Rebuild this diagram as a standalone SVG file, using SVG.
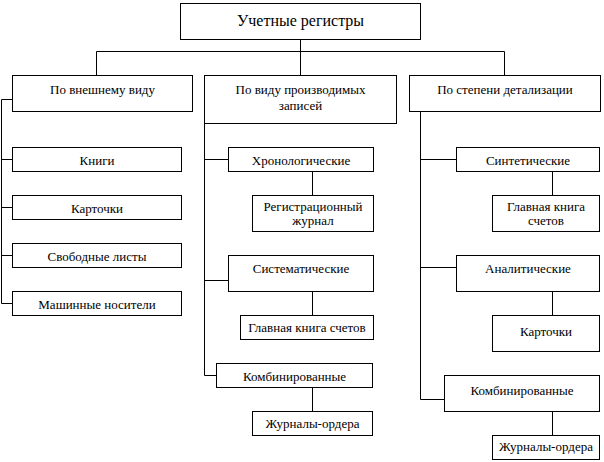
<svg xmlns="http://www.w3.org/2000/svg" width="604" height="462" viewBox="0 0 604 462">
<style>
rect{fill:#fff;stroke:#000;stroke-width:1}
path{stroke:#000;stroke-width:1;fill:none}
text{font-size:13px;fill:#000;text-anchor:middle}
.t{font-size:16px}
</style>
<rect x="0" y="0" width="604" height="462" style="stroke:none"/>
<g id="connectors">
<path d="M300.5 39.5V75.5M96.5 75.5V51.5H504.5V75.5"/>
<path d="M12.5 99.5H1.5V303.5H12.5M1.5 159.5H12.5M1.5 207.5H12.5M1.5 255.5H12.5"/>
<path d="M204.5 123.5V375.5H216.5M204.5 159.5H228.5M204.5 280.5H228.5"/>
<path d="M312.5 171.5V195.5M312.5 291.5V315.5M312.5 387.5V411.5"/>
<path d="M420.5 111.5V399.5H444.5M420.5 159.5H456.5M420.5 267.5H456.5"/>
<path d="M552.5 171.5V195.5M552.5 291.5V315.5M552.5 411.5V435.5"/>
</g>
<g font-family="'Liberation Serif', 'DejaVu Serif', serif">
<g id="root"><rect x="180.5" y="3.5" width="240" height="36"/><text class="t" x="300.5" y="26">Учетные регистры</text></g>
<g id="vid"><rect x="12.5" y="75.5" width="180" height="36"/><text x="102.5" y="94">По внешнему виду</text></g>
<g id="zap"><rect x="204.5" y="75.5" width="192" height="48"/><text x="300.5" y="94">По виду производимых</text><text x="300.5" y="110">записей</text></g>
<g id="det"><rect x="409.5" y="75.5" width="191" height="36"/><text x="505" y="94">По степени детализации</text></g>
<g id="knigi"><rect x="12.5" y="147.5" width="169" height="24"/><text x="97" y="165">Книги</text></g>
<g id="kart1"><rect x="12.5" y="195.5" width="169" height="24"/><text x="97" y="213">Карточки</text></g>
<g id="svob"><rect x="12.5" y="243.5" width="169" height="24"/><text x="97" y="261">Свободные листы</text></g>
<g id="mash"><rect x="12.5" y="291.5" width="169" height="24"/><text x="97" y="309">Машинные носители</text></g>
<g id="hron"><rect x="228.5" y="147.5" width="145" height="24"/><text x="301" y="165">Хронологические</text></g>
<g id="reg"><rect x="252.5" y="195.5" width="121" height="36"/><text x="313" y="211">Регистрационный</text><text x="313" y="225">журнал</text></g>
<g id="sist"><rect x="228.5" y="255.5" width="145" height="36"/><text x="301" y="273">Систематические</text></g>
<g id="glav1"><rect x="240.5" y="315.5" width="133" height="24"/><text x="307" y="332">Главная книга счетов</text></g>
<g id="komb1"><rect x="216.5" y="363.5" width="156" height="24"/><text x="294.5" y="381">Комбинированные</text></g>
<g id="zhur1"><rect x="252.5" y="411.5" width="120" height="24"/><text x="312.5" y="428">Журналы-ордера</text></g>
<g id="sint"><rect x="456.5" y="147.5" width="143" height="24"/><text x="528" y="165">Синтетические</text></g>
<g id="glav2"><rect x="492.5" y="195.5" width="107" height="36"/><text x="546" y="211">Главная книга</text><text x="546" y="225">счетов</text></g>
<g id="anal"><rect x="456.5" y="255.5" width="143" height="36"/><text x="528" y="273">Аналитические</text></g>
<g id="kart2"><rect x="492.5" y="315.5" width="107" height="36"/><text x="546" y="336">Карточки</text></g>
<g id="komb2"><rect x="444.5" y="375.5" width="155" height="36"/><text x="522" y="395">Комбинированные</text></g>
<g id="zhur2"><rect x="492.5" y="435.5" width="107" height="24"/><text x="546" y="451">Журналы-ордера</text></g>
</g>
</svg>
